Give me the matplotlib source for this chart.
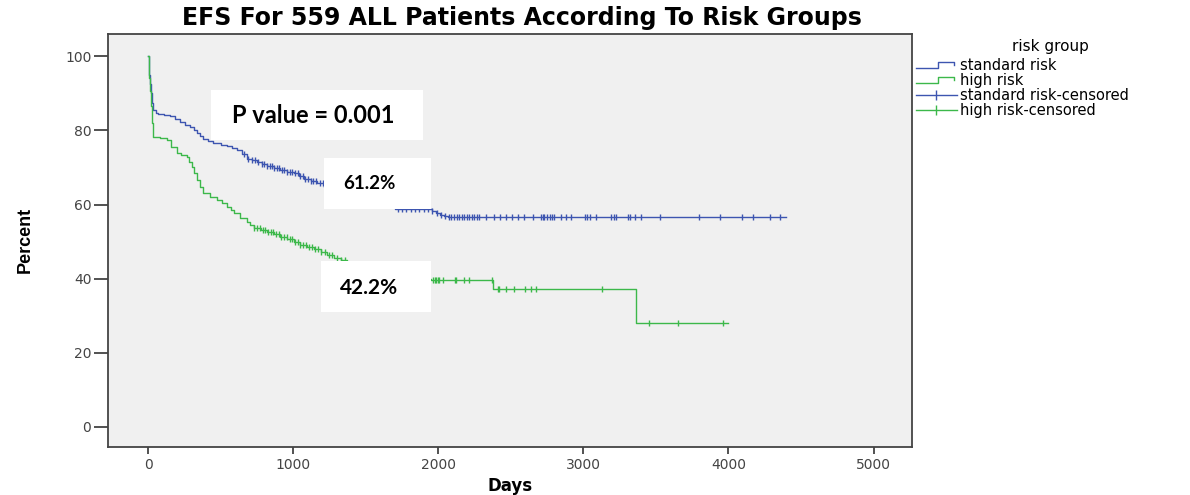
"""EFS Kaplan-Meier curves for 559 ALL patients by risk group."""
import matplotlib
matplotlib.use('Agg')

import matplotlib.pyplot as plt
from matplotlib.legend_handler import HandlerBase
from matplotlib.lines import Line2D
from matplotlib.patches import Rectangle
import numpy as np

# standard risk: step curve (days, percent)
std_days = [0, 4, 8, 14, 20, 28, 37, 55, 71, 110, 152, 185, 221, 255, 290,
            315, 336, 360, 382, 415, 451, 500, 544, 580, 613, 650, 682, 715,
            751, 785, 820, 865, 912, 960, 1004, 1040, 1073, 1120, 1166, 1212,
            1260, 1300, 1350, 1400, 1450, 1500, 1550, 1600, 1650, 1700, 1960,
            1985, 2010, 2040, 2070, 4400]
std_pct = [100, 97.5, 95, 92.5, 90, 87.5, 85.4, 84.8, 84.4, 84.1, 83.8, 83.0,
           82.3, 81.5, 80.8, 80.0, 79.2, 78.5, 77.8, 77.2, 76.6, 76.1, 75.7,
           75.2, 74.7, 73.5, 72.4, 72.0, 71.5, 71.0, 70.4, 69.9, 69.3, 68.8,
           68.4, 67.7, 67.0, 66.4, 65.7, 64.8, 64.3, 63.8, 63.1, 62.5, 61.8,
           61.2, 60.6, 60.0, 59.4, 58.8, 58.3, 57.7, 57.2, 56.9, 56.6, 56.6]
std_censored = [660, 690, 715, 740, 760, 785, 800, 820, 840, 855, 870, 890,
                905, 925, 940, 960, 975, 990, 1010, 1030, 1045, 1065, 1085,
                1100, 1120, 1140, 1160, 1185, 1205,
                1720, 1750, 1780, 1810, 1840, 1870, 1900, 1930, 1960, 1990,
                2020, 2045,
                2075, 2090, 2110, 2130, 2145, 2165, 2179, 2195, 2214, 2230,
                2248, 2265, 2283, 2329, 2382, 2426, 2467, 2509, 2548, 2589,
                2656, 2705, 2720, 2732, 2750, 2767, 2785, 2801, 2847, 2882,
                2912, 3009, 3027, 3043, 3089, 3193, 3210, 3227, 3308, 3320,
                3354, 3400, 3527, 3799, 3942, 4091, 4172, 4287, 4356]

# high risk: step curve (days, percent)
high_days = [0, 4, 8, 14, 20, 28, 37, 80, 129, 160, 198, 230, 267, 285, 302,
             320, 336, 360, 382, 430, 475, 510, 544, 570, 590, 635, 682, 705,
             728, 775, 820, 865, 912, 960, 1004, 1050, 1097, 1145, 1189, 1235,
             1281, 1330, 1373, 1450, 1550, 1650, 1750, 1850, 1950, 2375, 3360,
             4000]
high_pct = [100, 97, 94, 90.5, 86.5, 82, 78.3, 77.9, 77.4, 75.6, 73.8, 73.3,
            72.9, 71.6, 70.2, 68.4, 66.6, 64.8, 63.0, 62.1, 61.2, 60.3, 59.4,
            58.5, 57.6, 56.5, 55.3, 54.5, 53.6, 53.1, 52.6, 52.0, 51.3, 50.6,
            49.9, 49.2, 48.6, 47.9, 47.3, 46.4, 45.5, 45.0, 44.6, 43.5, 42.3,
            41.3, 40.5, 40.0, 39.6, 37.3, 28, 28]
high_censored = [730, 750, 770, 790, 805, 825, 845, 860, 880, 900, 915, 935,
                 955, 975, 990, 1010, 1030, 1050, 1070, 1090, 1110, 1130,
                 1150, 1170, 1195, 1220, 1245, 1270, 1300, 1330, 1360,
                 1963, 1975, 1985, 1995, 2005, 2033, 2115, 2125, 2175, 2210,
                 2368, 2410, 2420, 2470, 2520, 2595, 2640, 2675, 3128,
                 3453, 3653, 3965]

BLUE = '#3d55b0'
GREEN = '#3cb84a'


def km_at(days, pct, t):
    idx = np.searchsorted(days, t, side='right') - 1
    return np.asarray(pct)[idx]


class StepHandler(HandlerBase):
    def create_artists(self, legend, orig_handle, xdescent, ydescent,
                       width, height, fontsize, trans):
        xs = np.array([0, 0.55, 0.55, 0.92, 0.92]) * width - xdescent
        ys = np.array([0.2, 0.2, 0.8, 0.8, 0.45]) * height - ydescent
        line = Line2D(xs, ys, color=orig_handle.get_color(), lw=1,
                      transform=trans)
        return [line]


fig = plt.figure(figsize=(11.9, 4.95), dpi=100)
ax = fig.add_axes([108 / 1190, 1 - 447 / 495, 804 / 1190, 413 / 495])
ax.set_facecolor('#f0f0f0')

ax.step(std_days, std_pct, where='post', color=BLUE, lw=1)
ax.step(high_days, high_pct, where='post', color=GREEN, lw=1)

ax.plot(std_censored, km_at(std_days, std_pct, std_censored),
        ls='none', marker='|', ms=5, mew=1, color=BLUE)
ax.plot(high_censored, km_at(high_days, high_pct, high_censored),
        ls='none', marker='|', ms=5, mew=1, color=GREEN)

ax.set_xlim(-276, 5265)
ax.set_ylim(-5.4, 106)
ax.set_xticks([0, 1000, 2000, 3000, 4000, 5000])
ax.set_yticks([0, 20, 40, 60, 80, 100])
ax.tick_params(direction='out', width=1.2, color='#333333',
               labelsize=10, labelcolor='#444444')
ax.tick_params(axis='x', length=5, pad=3)
ax.tick_params(axis='y', length=10, pad=2)
for sp in ax.spines.values():
    sp.set_color('#444444')
    sp.set_linewidth(1.3)

# annotation boxes
boxes = [
    (435, 77.4, 1459, 13.4, 'P value = 0.001', 580, 84.0, 17),
    (1216, 58.8, 733, 13.7, '61.2%', 1348, 65.8, 13.5),
    (1189, 31.0, 760, 13.7, '42.2%', 1320, 37.6, 15),
]
for x0, y0, w, h, txt, tx, ty, fs in boxes:
    ax.add_patch(Rectangle((x0, y0), w, h, facecolor='white',
                           edgecolor='none', zorder=5))
    ax.text(tx, ty, txt, fontsize=fs, fontweight='bold', family='Lato',
            va='center', ha='left', zorder=6)

fig.text(522 / 1190, 1 - 18 / 495,
         'EFS For 559 ALL Patients According To Risk Groups',
         ha='center', va='center', fontsize=17, fontweight='bold',
         family='DejaVu Sans')
fig.text(510 / 1190, 1 - 486 / 495, 'Days', ha='center', va='center',
         fontsize=12, fontweight='bold', family='DejaVu Sans')
fig.text(25 / 1190, 1 - 240 / 495, 'Percent', ha='center', va='center',
         rotation=90, fontsize=13, fontweight='bold',
         family=['Liberation Sans Narrow', 'Liberation Sans'])
fig.text(1050 / 1190, 1 - 47 / 495, 'risk group', ha='center', va='center',
         fontsize=11, family='DejaVu Sans')

proxy_std = Line2D([], [], color=BLUE)
proxy_high = Line2D([], [], color=GREEN)
proxy_std_c = Line2D([], [], color=BLUE, lw=1, marker='|', ms=7)
proxy_high_c = Line2D([], [], color=GREEN, lw=1, marker='|', ms=7)
leg = fig.legend(
    [proxy_std, proxy_high, proxy_std_c, proxy_high_c],
    ['standard risk', 'high risk', 'standard risk-censored',
     'high risk-censored'],
    handler_map={proxy_std: StepHandler(), proxy_high: StepHandler()},
    loc='upper left', bbox_to_anchor=(916 / 1190, 1 - 58 / 495),
    frameon=False,
    handlelength=2.8, handletextpad=0.2, labelspacing=0.0,
    borderaxespad=0, borderpad=0.0,
    prop={'family': 'DejaVu Sans', 'size': 10.5},
)

fig.savefig('out.png', dpi=100)
plt.close(fig)
